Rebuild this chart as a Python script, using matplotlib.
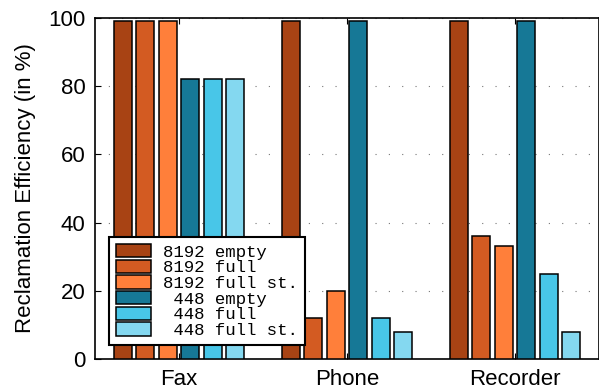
import matplotlib

matplotlib.use("Agg")
import matplotlib.pyplot as plt
import numpy as np

apps = ["Fax", "Phone", "Recorder"]
series = ["8192 empty", "8192 full", "8192 full st.", " 448 empty", " 448 full", " 448 full st."]
colors = ["#A84314", "#D35B22", "#FF7F3A", "#167896", "#48C6E8", "#84D8F0"]
values = [
    [99, 99, 99],   # 8192 empty
    [99, 12, 36],   # 8192 full
    [99, 20, 33],   # 8192 full st.
    [82, 99, 99],   # 448 empty
    [82, 12, 25],   # 448 full
    [82, 8, 8],     # 448 full st.
]

plt.rcParams["font.family"] = ["Liberation Sans", "DejaVu Sans"]

fig = plt.figure(figsize=(5.99, 3.91), dpi=100)
ax = fig.add_axes([95 / 599, 32 / 391, 504 / 599, 341 / 391])

x = np.arange(len(apps))
step = 0.134
width = 0.108
for i, (name, vals) in enumerate(zip(series, values)):
    ax.bar(x + (i - 2.5) * step, vals, width, color=colors[i], edgecolor="black",
           linewidth=1.1, label=name, zorder=3)

ax.set_xlim(-0.5, 2.5)
ax.set_ylim(0, 100)
ax.set_yticks([0, 20, 40, 60, 80, 100])
ax.set_xticks(x)
ax.set_xticklabels(apps)
ax.yaxis.grid(True, linestyle=(0, (1, 11)), color="#777777", linewidth=0.8, zorder=0)
ax.tick_params(axis="y", direction="in", length=4, labelsize=16, pad=7)
ax.tick_params(axis="x", direction="in", length=4, labelsize=16, pad=7, top=True)
ax.set_ylabel("Reclamation Efficiency (in %)", fontsize=16, labelpad=9)
for s in ax.spines.values():
    s.set_linewidth(1.2)

leg = ax.legend(loc="lower left", bbox_to_anchor=(0.028, 0.041), borderaxespad=0,
                fancybox=False, framealpha=1, edgecolor="black", borderpad=0.4,
                labelspacing=0.0, handlelength=2.0, handleheight=0.8, handletextpad=0.7,
                prop={"family": "Liberation Mono", "size": 12.5})
leg.get_frame().set_linewidth(1.5)
leg.set_zorder(5)

fig.savefig("out.png", dpi=100)
